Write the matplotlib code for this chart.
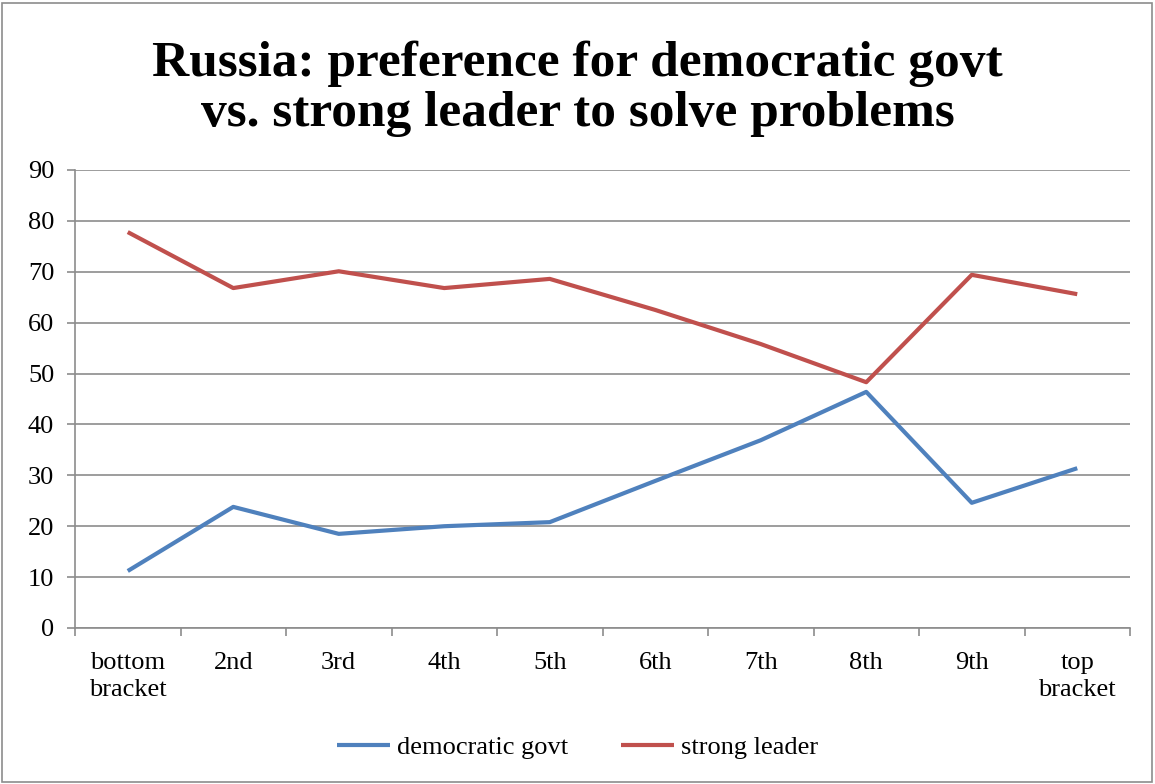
import matplotlib
matplotlib.use("Agg")
import matplotlib.pyplot as plt
from matplotlib.patches import Rectangle

categories = ["bottom\nbracket", "2nd", "3rd", "4th", "5th", "6th", "7th", "8th", "9th", "top\nbracket"]
democratic_govt = [11.2, 23.8, 18.5, 20.0, 20.8, 28.9, 36.9, 46.4, 24.6, 31.4]
strong_leader = [77.8, 66.8, 70.1, 66.8, 68.6, 62.5, 55.8, 48.3, 69.4, 65.6]
y_ticks = [0, 10, 20, 30, 40, 50, 60, 70, 80, 90]

W, H = 1155, 784
fig = plt.figure(figsize=(W / 100, H / 100), dpi=100)
serif = ["Liberation Serif", "DejaVu Serif"]

fig.patches.append(Rectangle((2 / W, 2 / H), (W - 5) / W, (H - 5) / H, transform=fig.transFigure,
                             fill=False, edgecolor="#8c8c8c", linewidth=1.2))

left, right, top, bottom = 75, 1130, 170, 628
ax = fig.add_axes([left / W, 1 - bottom / H, (right - left) / W, (bottom - top) / H])

x = list(range(len(categories)))
ax.plot(x, democratic_govt, color="#4F81BD", linewidth=3.0, label="democratic govt", solid_capstyle="butt")
ax.plot(x, strong_leader, color="#C0504D", linewidth=3.0, label="strong leader", solid_capstyle="butt")

ax.set_xlim(-0.5, len(categories) - 0.5)
ax.set_ylim(0, 90)
ax.set_yticks(y_ticks)
ax.set_yticklabels([str(v) for v in y_ticks], family=serif, fontsize=19)
ax.set_xticks(x)
ax.set_xticklabels(categories, family=serif, fontsize=19, linespacing=1.3)
ax.set_xticks([i - 0.5 for i in range(len(categories) + 1)], minor=True)
ax.tick_params(axis="x", which="major", length=0, pad=17)
ax.tick_params(axis="x", which="minor", length=6, color="#8c8c8c", width=1.2)
ax.tick_params(axis="y", length=6, color="#8c8c8c", width=1.2, pad=9)
ax.yaxis.grid(True, color="#8c8c8c", linewidth=1.2)
ax.set_axisbelow(True)
for s in ["top", "right"]:
    ax.spines[s].set_visible(False)
for s in ["left", "bottom"]:
    ax.spines[s].set_color("#8c8c8c")
    ax.spines[s].set_linewidth(1.2)

fig.text(0.5, 1 - 89 / H, "Russia: preference for democratic govt\nvs. strong leader to solve problems",
         ha="center", va="center", family=serif, fontsize=37, fontweight="bold", linespacing=1.12)

leg = fig.legend(loc="center", bbox_to_anchor=(0.5, 1 - 747 / H), ncol=2, frameon=False,
                 prop={"family": serif, "size": 19}, handlelength=2.0, columnspacing=2.0, handletextpad=0.27)

fig.savefig("out.png", dpi=100)
